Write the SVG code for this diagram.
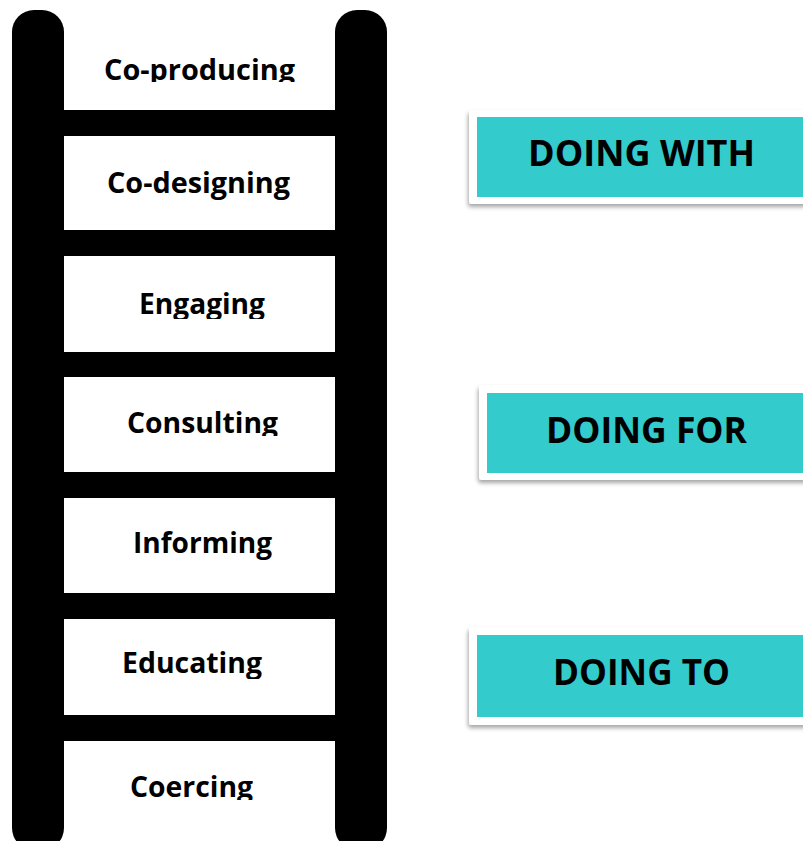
<svg xmlns="http://www.w3.org/2000/svg" width="803" height="841" viewBox="0 0 803 841">
<defs>
<style>
.rail{fill:#000}
.rung{fill:#000}
.lbl{font-family:"Open Sans","Liberation Sans",sans-serif;font-weight:bold;font-size:28px;fill:#000;text-anchor:start}
.tag{font-family:"Open Sans","Liberation Sans",sans-serif;font-weight:bold;font-size:36px;fill:#000}
.frame{fill:#fff;filter:url(#sh)}
.teal{fill:#33CBCC}
</style>
<filter id="sh" x="-10%" y="-20%" width="130%" height="150%">
<feDropShadow dx="-1" dy="3" stdDeviation="2" flood-color="#000" flood-opacity="0.35"/>
</filter>
<clipPath id="c1"><rect x="64" y="40" width="271" height="42"/></clipPath>
<clipPath id="c2"><rect x="64" y="150" width="271" height="52"/></clipPath>
<clipPath id="c3"><rect x="64" y="270" width="271" height="49"/></clipPath>
<clipPath id="c4"><rect x="64" y="390" width="271" height="46"/></clipPath>
<clipPath id="c5"><rect x="64" y="510" width="271" height="50"/></clipPath>
<clipPath id="c6"><rect x="64" y="630" width="271" height="49"/></clipPath>
<clipPath id="c7"><rect x="64" y="755" width="271" height="45"/></clipPath>
</defs>
<rect width="803" height="841" fill="#fff"/>
<g id="ladder">
<rect class="rail" x="12" y="10" width="52" height="840" rx="22"/>
<rect class="rail" x="335" y="10" width="52" height="840" rx="22"/>
<rect class="rung" x="60" y="110" width="280" height="26"/>
<rect class="rung" x="60" y="230" width="280" height="26"/>
<rect class="rung" x="60" y="352" width="280" height="25"/>
<rect class="rung" x="60" y="472" width="280" height="26"/>
<rect class="rung" x="60" y="593" width="280" height="26"/>
<rect class="rung" x="60" y="715" width="280" height="26"/>
</g>
<g id="step-coproducing" clip-path="url(#c1)"><text class="lbl" x="104" y="80" textLength="191" lengthAdjust="spacingAndGlyphs">Co-producing</text></g>
<g id="step-codesigning" clip-path="url(#c2)"><text class="lbl" x="107" y="193" textLength="183" lengthAdjust="spacingAndGlyphs">Co-designing</text></g>
<g id="step-engaging" clip-path="url(#c3)"><text class="lbl" x="139" y="314" textLength="126" lengthAdjust="spacingAndGlyphs">Engaging</text></g>
<g id="step-consulting" clip-path="url(#c4)"><text class="lbl" x="127" y="433" textLength="151" lengthAdjust="spacingAndGlyphs">Consulting</text></g>
<g id="step-informing" clip-path="url(#c5)"><text class="lbl" x="133" y="553" textLength="139" lengthAdjust="spacingAndGlyphs">Informing</text></g>
<g id="step-educating" clip-path="url(#c6)"><text class="lbl" x="122" y="673" textLength="140" lengthAdjust="spacingAndGlyphs">Educating</text></g>
<g id="step-coercing" clip-path="url(#c7)"><text class="lbl" x="130" y="797" textLength="123" lengthAdjust="spacingAndGlyphs">Coercing</text></g>
<g id="doing-with">
<rect class="frame" x="469" y="110" width="350" height="94" rx="3"/>
<rect class="teal" x="477" y="117" width="340" height="80"/>
<text class="tag" x="528" y="166" textLength="227" lengthAdjust="spacingAndGlyphs">DOING WITH</text>
</g>
<g id="doing-for">
<rect class="frame" x="479" y="385" width="340" height="95" rx="3"/>
<rect class="teal" x="487" y="393" width="330" height="80"/>
<text class="tag" x="546" y="443" textLength="201" lengthAdjust="spacingAndGlyphs">DOING FOR</text>
</g>
<g id="doing-to">
<rect class="frame" x="469" y="627" width="350" height="98" rx="3"/>
<rect class="teal" x="477" y="635" width="340" height="82"/>
<text class="tag" x="553" y="685" textLength="177" lengthAdjust="spacingAndGlyphs">DOING TO</text>
</g>
<g id="connectors"/>
</svg>
